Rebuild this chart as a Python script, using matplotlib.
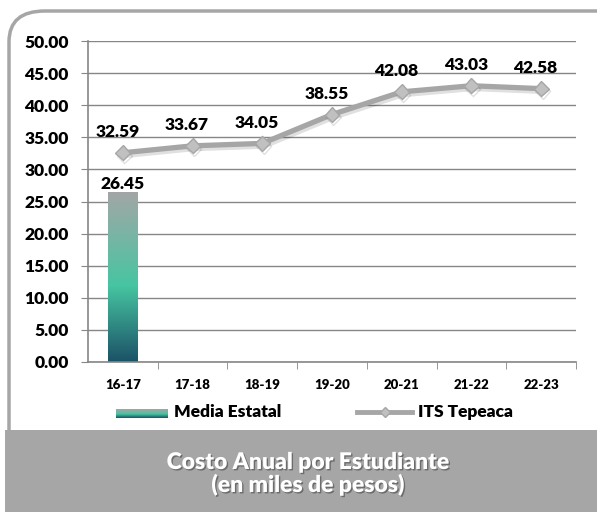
import numpy as np
import matplotlib
matplotlib.use('Agg')
import matplotlib.pyplot as plt
import matplotlib.patheffects as pe
from matplotlib.colors import LinearSegmentedColormap
from matplotlib.patches import FancyBboxPatch, Rectangle
from matplotlib.lines import Line2D

plt.rcParams['font.family'] = ['Lato', 'DejaVu Sans']

periods = ['16-17', '17-18', '18-19', '19-20', '20-21', '21-22', '22-23']
its_tepeaca = [32.59, 33.67, 34.05, 38.55, 42.08, 43.03, 42.58]
media_estatal = [26.45, None, None, None, None, None, None]
y_ticks = [0, 5, 10, 15, 20, 25, 30, 35, 40, 45, 50]

grad = LinearSegmentedColormap.from_list(
    'media', [(0.0, '#1b5266'), (0.45, '#47c5a2'), (1.0, '#a3a6a6')])

W, H = 597, 512
fig = plt.figure(figsize=(W / 100, H / 100), dpi=100)

# outer rounded frame
frame = FancyBboxPatch((9 / W, -0.2), 1.2, (1 - 11 / H) + 0.2,
                       boxstyle='round,pad=0,rounding_size=0.06',
                       transform=fig.transFigure, fc='white', ec='#a6a6a6',
                       lw=2.5, zorder=-2)
fig.patches.append(frame)

ax = fig.add_axes([88 / W, 1 - 362 / H, (576 - 88) / W, (362 - 41) / H])
ax.set_facecolor('none')
x = np.arange(len(periods))

# bar with vertical gradient
for xi, v in zip(x, media_estatal):
    if v is None:
        continue
    bars = ax.bar(xi, v, width=0.42, color='none', zorder=2)
    b = bars[0]
    img = ax.imshow(np.linspace(0, 1, 256).reshape(-1, 1), cmap=grad,
                    origin='lower', aspect='auto',
                    extent=[xi - 0.21, xi + 0.21, 0, v], zorder=2)
    img.set_clip_path(b)
    ax.text(xi, v + 0.1, f'{v:.2f}', ha='center', va='bottom',
            fontsize=12.5, fontweight='heavy', zorder=5)

# line
ax.plot(x, its_tepeaca, color='#a6a6a6', lw=3.8, marker='D', markersize=7.5,
        mfc='#c0c0c0', mec='#a6a6a6', mew=1, zorder=3,
        path_effects=[pe.SimpleLineShadow(offset=(1, -2), alpha=0.12),
                      pe.Normal()])
for xi, v in zip(x, its_tepeaca):
    ax.text(xi - 0.08, v + 2.0, f'{v:.2f}', ha='center', va='bottom',
            fontsize=12.5, fontweight='heavy', zorder=5)

ax.set_xlim(-0.5, len(periods) - 0.5)
ax.set_ylim(0, 50)
ax.set_yticks(y_ticks)
ax.set_yticklabels([f'{t:.2f}' for t in y_ticks], fontsize=12.5, fontweight='heavy')
ax.set_xticks(x)
ax.set_xticklabels(periods, fontsize=9.5, fontweight='heavy')
ax.set_xticks(np.arange(0.5, len(periods), 1), minor=True)
ax.tick_params(axis='x', which='major', length=0, pad=12)
ax.tick_params(axis='x', which='minor', length=5, color='#868686', direction='out')
ax.tick_params(axis='y', length=5, color='#868686', pad=9)
ax.grid(axis='y', color='#868686', lw=1)
ax.set_axisbelow(True)
for s in ['top', 'right']:
    ax.spines[s].set_visible(False)
for s in ['left', 'bottom']:
    ax.spines[s].set_color('#868686')
    ax.spines[s].set_linewidth(1.2)
    ax.spines[s].set_zorder(4)

# legend
lax = fig.add_axes([116 / W, 1 - 418 / H, 52 / W, 9 / H])
lax.imshow(np.linspace(0, 1, 64).reshape(-1, 1), cmap=grad, origin='lower',
           aspect='auto')
lax.axis('off')
fig.text(174 / W, 1 - 412 / H, 'Media Estatal', fontsize=12.5,
         fontweight='heavy', va='center')
fig.lines.append(Line2D([357 / W, 412 / W], [1 - 412 / H, 1 - 412 / H],
                        transform=fig.transFigure, color='#a6a6a6', lw=3.5))
fig.lines.append(Line2D([384.5 / W], [1 - 412 / H], transform=fig.transFigure,
                        marker='D', markersize=5.5, mfc='#c0c0c0', mec='#a6a6a6'))
fig.text(418 / W, 1 - 412 / H, 'ITS Tepeaca', fontsize=12.5,
         fontweight='heavy', va='center')

# title banner
fig.patches.append(Rectangle((5 / W, 0), 1, 1 - 430 / H,
                             transform=fig.transFigure, fc='#a6a6a6',
                             ec='none', zorder=1))
fig.text(308 / W, 1 - 474 / H, 'Costo Anual por Estudiante\n(en miles de pesos)',
         ha='center', va='center', color='white', fontsize=16.5,
         fontweight='heavy', linespacing=1.05,
         path_effects=[pe.withSimplePatchShadow(offset=(1, -1),
                                                shadow_rgbFace='#333333',
                                                alpha=0.5)])

fig.savefig('out.png', dpi=100)
